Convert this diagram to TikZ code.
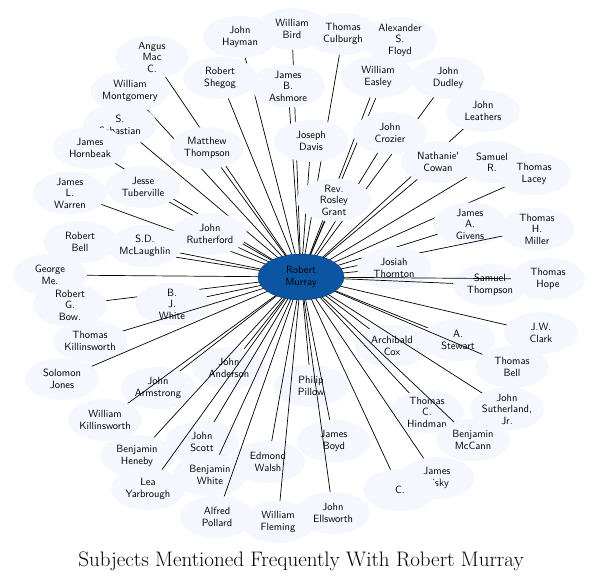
\documentclass[tikz,border=0pt]{standalone}
\usepackage{tikz}
\usetikzlibrary{shapes.geometric}
\definecolor{pale}{HTML}{F4F8FE}
\definecolor{hub}{HTML}{0B55A3}
\tikzset{
  person/.style={ellipse, fill=pale, inner sep=0pt, minimum width=74pt, minimum height=42pt,
    align=center, font=\fontsize{10.5}{11.5}\selectfont\sffamily},
  centre/.style={ellipse, fill=hub, draw=hub!70!black, minimum width=86pt, minimum height=46pt,
    align=center, font=\fontsize{10.5}{11.5}\selectfont\sffamily},
  link/.style={black, line width=0.7pt}
}
\begin{document}
\begin{tikzpicture}[x=1pt,y=-1pt]
\useasboundingbox (0,0) rectangle (602,584);
\coordinate (c) at (301,277);
\foreach \nm/\px/\py/\txt in {
  bird/292/29/{William\\Bird}, hayman/240/37/{John\\Hayman}, culburgh/343/34/{Thomas\\Culburgh},
  floyd/400/40/{Alexander\\S.\\Floyd}, angus/152/57/{Angus\\Mac\\C.}, shegog/220/78/{Robert\\Shegog},
  ashmore/288/86/{James\\B.\\Ashmore}, easley/378/77/{William\\Easley}, dudley/448/78/{John\\Dudley},
  montgomery/130/91/{William\\Montgomery}, leathers/483/111/{John\\Leathers},
  sebastian/120/125/{S.\\Sebastian}, mthompson/207/148/{Matthew\\Thompson}, davis/311/141/{Joseph\\Davis},
  crozier/390/133/{John\\Crozier}, hornbeak/90/148/{James\\Hornbeak}, cowan/438/162/{Nathaniel\\Cowan},
  samr/492/162/{Samuel\\R.}, lacey/534/174/{Thomas\\Lacey}, tuberville/143/187/{Jesse\\Tuberville},
  warren/70/193/{James\\L.\\Warren}, grant/334/200/{Rev.\\Rosley\\Grant}, givens/470/224/{James\\A.\\Givens},
  miller/537/229/{Thomas\\H.\\Miller}, rbell/80/242/{Robert\\Bell}, mclaughlin/145/246/{S.D.\\McLaughlin},
  rutherford/210/234/{John\\Rutherford}, thornton/394/268/{Josiah\\Thornton}, george/50/275/{George\\Me.},
  sthompson/490/285/{Samuel\\Thompson}, hope/548/279/{Thomas\\Hope}, bowen/70/305/{Robert\\G.\\Bow.},
  bjwhite/172/304/{B.\\J.\\White}, stewart/458/340/{A.\\Stewart}, clark/541/333/{J.W.\\Clark},
  tkillinsworth/90/341/{Thomas\\Killinsworth}, cox/392/346/{Archibald\\Cox}, jones/62/379/{Solomon\\Jones},
  anderson/229/368/{John\\Anderson}, tbell/512/367/{Thomas\\Bell}, armstrong/158/388/{John\\Armstrong},
  pillow/311/386/{Philip\\Pillow}, wkillinsworth/105/420/{William\\Killinsworth},
  hindman/427/412/{Thomas\\C.\\Hindman}, sutherland/507/409/{John\\Sutherland,\\Jr.},
  scott/202/442/{John\\Scott}, boyd/334/441/{James\\Boyd}, mccann/473/440/{Benjamin\\McCann},
  heneby/137/456/{Benjamin\\Heneby}, walsh/268/462/{Edmond\\Walsh}, bwhite/210/475/{Benjamin\\White},
  hisky/437/478/{James\\Hisky}, cc/400/490/{C.}, yarbrough/148/489/{Lea\\Yarbrough},
  pollard/217/517/{Alfred\\Pollard}, fleming/278/522/{William\\Fleming}, worth/333/513/{John\\Ellsworth}}
{
  \draw[link] (c) -- (\px,\py);
  \node[person] (\nm) at (\px,\py) {\txt};
}
\node[centre] (murray) at (c) {Robert\\Murray};
\node (title) at (301,561) {\fontsize{21}{24}\selectfont Subjects Mentioned Frequently With Robert Murray};
\end{tikzpicture}
\end{document}
